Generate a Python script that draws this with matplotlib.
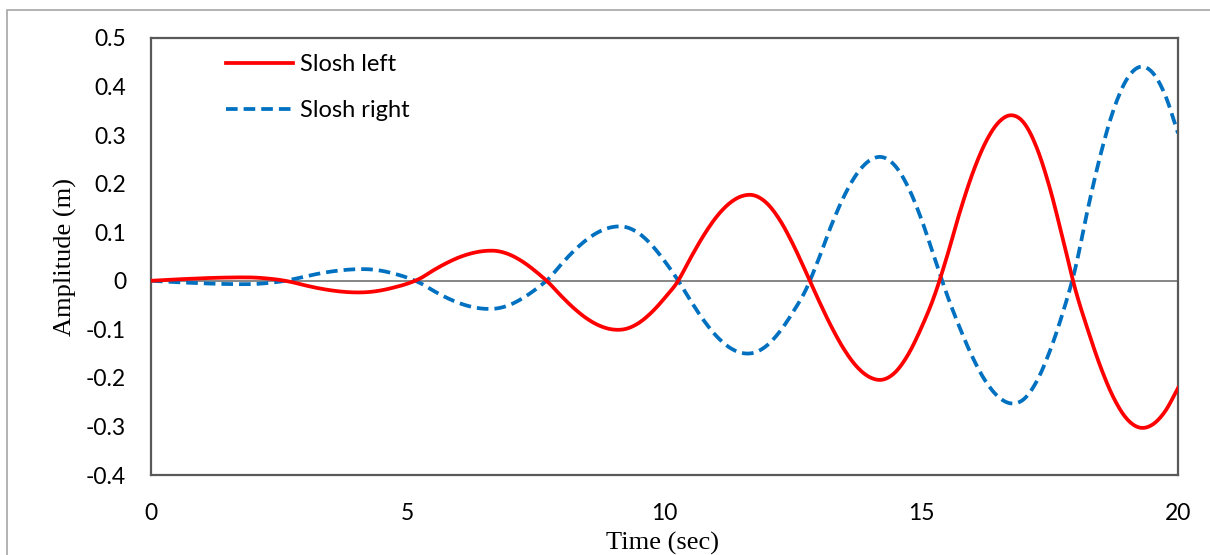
import numpy as np
import matplotlib
matplotlib.use("Agg")
import matplotlib.pyplot as plt
from matplotlib.patches import Rectangle

# sampled slosh amplitudes (m), every 0.25 s from 0 to 20 s
time = np.arange(0, 20.001, 0.25)

slosh_left = [
    0.0, 0.0015, 0.0029, 0.0041, 0.0052, 0.0061, 0.0067, 0.0070,
    0.0067, 0.0049, 0.0019, -0.0029, -0.0094, -0.0151, -0.0196, -0.0227,
    -0.0240, -0.0231, -0.0194, -0.0133, -0.0057, 0.0053, 0.0216, 0.0362,
    0.0483, 0.0568, 0.0614, 0.0611, 0.0532, 0.0385, 0.0186, -0.0046,
    -0.0325, -0.0579, -0.0787, -0.0932, -0.1004, -0.0990, -0.0868, -0.0649,
    -0.0359, -0.0027, 0.0455, 0.0913, 0.1300, 0.1582, 0.1741, 0.1757,
    0.1590, 0.1244, 0.0757, 0.0190, -0.0396, -0.0945, -0.1418, -0.1775,
    -0.1987, -0.2036, -0.1877, -0.1509, -0.0971, -0.0327, 0.0496, 0.1410,
    0.2214, 0.2845, 0.3256, 0.3409, 0.3252, 0.2738, 0.1924, 0.0896,
    -0.0176, -0.1030, -0.1797, -0.2418, -0.2839, -0.3023, -0.2964, -0.2687,
    -0.2210,
]

slosh_right = [
    0.0, -0.0015, -0.0029, -0.0041, -0.0052, -0.0061, -0.0067, -0.0070,
    -0.0067, -0.0049, -0.0019, 0.0028, 0.0089, 0.0144, 0.0189, 0.0221,
    0.0238, 0.0236, 0.0204, 0.0142, 0.0061, -0.0051, -0.0206, -0.0345,
    -0.0459, -0.0538, -0.0577, -0.0567, -0.0490, -0.0351, -0.0169, 0.0049,
    0.0353, 0.0630, 0.0859, 0.1023, 0.1109, 0.1105, 0.0978, 0.0736,
    0.0408, 0.0031, -0.0397, -0.0795, -0.1126, -0.1363, -0.1485, -0.1479,
    -0.1328, -0.1039, -0.0648, -0.0191, 0.0443, 0.1144, 0.1749, 0.2208,
    0.2482, 0.2545, 0.2356, 0.1918, 0.1275, 0.0497, -0.0283, -0.0968,
    -0.1577, -0.2064, -0.2388, -0.2526, -0.2436, -0.2067, -0.1459, -0.0681,
    0.0256, 0.1508, 0.2633, 0.3537, 0.4145, 0.4403, 0.4292, 0.3824,
    0.3040,
]

x_ticks = [0, 5, 10, 15, 20]
y_ticks = [-0.4, -0.3, -0.2, -0.1, 0, 0.1, 0.2, 0.3, 0.4, 0.5]


def smooth(x, y, n=12):
    # Catmull-Rom curve through the samples, like a spreadsheet "smoothed line"
    x = np.asarray(x, float)
    y = np.asarray(y, float)
    px = np.concatenate([[2 * x[0] - x[1]], x, [2 * x[-1] - x[-2]]])
    py = np.concatenate([[2 * y[0] - y[1]], y, [2 * y[-1] - y[-2]]])
    t = np.linspace(0, 1, n, endpoint=False)
    xs, ys = [], []
    for i in range(1, len(px) - 2):
        for p, out in ((px, xs), (py, ys)):
            p0, p1, p2, p3 = p[i - 1], p[i], p[i + 1], p[i + 2]
            out.extend(0.5 * (2 * p1 + (-p0 + p2) * t
                              + (2 * p0 - 5 * p1 + 4 * p2 - p3) * t ** 2
                              + (-p0 + 3 * p1 - 3 * p2 + p3) * t ** 3))
    xs.append(x[-1])
    ys.append(y[-1])
    return np.array(xs), np.array(ys)


fig = plt.figure(figsize=(12.1, 5.55), dpi=100)
fig.patches.append(Rectangle((7 / 1210, -0.2), 1.2, 0.2 + 1 - 10 / 555,
                             transform=fig.transFigure, fill=False,
                             edgecolor="#a6a6a6", lw=1.2))
ax = fig.add_axes([151 / 1210, 1 - 475 / 555, 1027 / 1210, 437 / 555])

ax.axhline(0, color="#868686", lw=1.4, zorder=1)

sx, sy = smooth(time, slosh_left)
ax.plot(sx, sy, color="#ff0000", lw=2.7, label="Slosh left", zorder=3)
sx, sy = smooth(time, slosh_right)
ax.plot(sx, sy, color="#0070c0", lw=2.7, dashes=(3.1, 1.6),
        label="Slosh right", zorder=2)

ax.set_xlim(0, 20)
ax.set_ylim(-0.4, 0.5)
ax.set_xticks(x_ticks)
ax.set_xticklabels([str(v) for v in x_ticks])
ax.set_yticks(y_ticks)
ax.set_yticklabels(["0" if v == 0 else f"{v:.1f}" for v in y_ticks])
ax.tick_params(length=0, labelsize=16.5, colors="black")
ax.tick_params(axis="x", pad=20)
ax.tick_params(axis="y", pad=18)
for lab in ax.get_xticklabels() + ax.get_yticklabels():
    lab.set_fontfamily("Lato")

for sp in ax.spines.values():
    sp.set_color("#595959")
    sp.set_linewidth(1.6)

fig.text(663 / 1210, 1 - 543 / 555, "Time (sec)", ha="center", va="center",
         fontsize=19, family="Liberation Serif")
fig.text(65 / 1210, 1 - 257 / 555, "Amplitude (m)", ha="center", va="center",
         rotation=90, fontsize=19, family="Liberation Serif")

ax.legend(loc="upper left", bbox_to_anchor=(0.0635, 0.985), frameon=False,
          prop={"family": "Lato", "size": 17}, handlelength=2.85,
          handletextpad=0.3, labelspacing=1.05, borderaxespad=0)

fig.savefig("out.png", dpi=100)
